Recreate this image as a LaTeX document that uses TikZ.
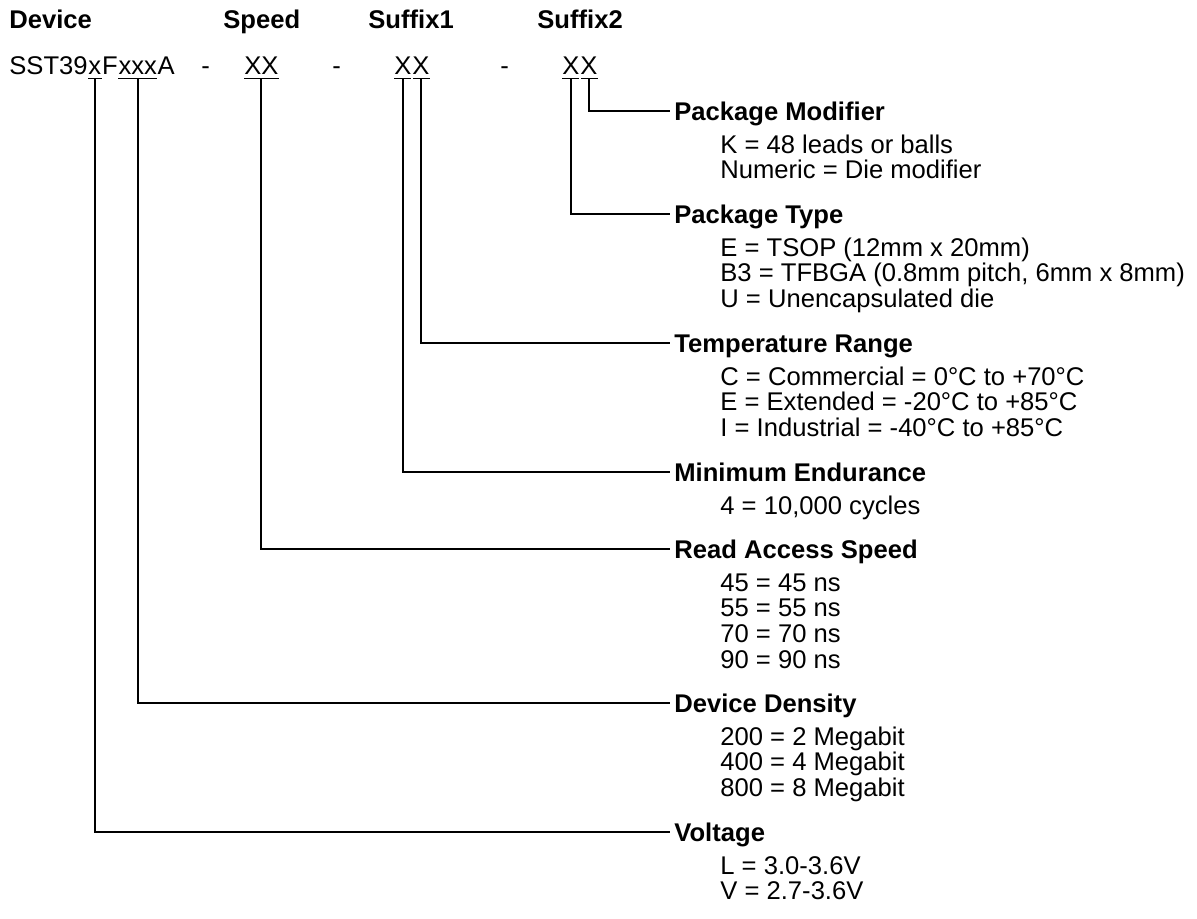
\documentclass[tikz,border=0pt]{standalone}
\usepackage{fontspec}
\setmainfont{Liberation Sans}
\begin{document}
\begin{tikzpicture}[x=0.5pt,y=-0.5pt,
  every node/.style={inner sep=0pt, font=\fontsize{12.8}{12.8}\selectfont},
  hdr/.style={font=\fontsize{12.8}{12.8}\selectfont\bfseries, anchor=base west},
  code/.style={anchor=base west, text depth=1.5pt},
  ul/.style={line width=0.7pt},
  conn/.style={line width=1pt},
  head/.style={font=\fontsize{12.8}{12.8}\selectfont\bfseries, anchor=west, inner xsep=2pt, inner ysep=0pt, text height=9.2pt, text depth=0pt},
  item/.style={anchor=base west}
]
\useasboundingbox (0,0) rectangle (1197,919);

% column headers
\node[hdr] (tDev) at (9,28.5) {Device};
\node[hdr] (tSpd) at (223,28.5) {Speed};
\node[hdr] (tS1) at (368,28.5) {Suffix1};
\node[hdr] (tS2) at (537,28.5) {Suffix2};

% part number row
\node[code] (c1) at (9,75) {SST39};
\node[code] (cx) at (c1.base east) {x};
\node[code] (cF) at (cx.base east) {F};
\node[code] (cxxx) at (cF.base east) {xxx};
\node[code] (cA) at (cxxx.base east) {A};
\node[code] (d1) at (201,75) {-};
\node[code] (sp) at (244,75) {XX};
\node[code] (d2) at (332,75) {-};
\node[code] (s1a) at (394,75) {X};
\node[code] (s1b) at (s1a.base east) {X};
\node[code] (d3) at (500,75) {-};
\node[code] (s2a) at (562,75) {X};
\node[code] (s2b) at (s2a.base east) {X};

% underlines
\draw[ul] (cx.south west) -- (cx.south east);
\draw[ul] (cxxx.south west) -- (cxxx.south east);
\draw[ul] (sp.south west) -- (sp.south east);
\draw[ul, shorten >=0.6pt] (s1a.south west) -- (s1a.south east);
\draw[ul, shorten <=0.6pt] (s1b.south west) -- (s1b.south east);
\draw[ul, shorten >=0.6pt] (s2a.south west) -- (s2a.south east);
\draw[ul, shorten <=0.6pt] (s2b.south west) -- (s2b.south east);

% legend headings
\node[head] (hPM) at (670,111) {Package Modifier};
\node[head] (hPT) at (670,214) {Package Type};
\node[head] (hTR) at (670,343) {Temperature Range};
\node[head] (hME) at (670,472) {Minimum Endurance};
\node[head] (hRA) at (670,549) {Read Access Speed};
\node[head] (hDD) at (670,703) {Device Density};
\node[head] (hV) at (670,832) {Voltage};

% legend items
\node[item] (pm1) at (720,153.2) {K = 48 leads or balls};
\node[item] (pm2) at (720,178.9) {Numeric = Die modifier};
\node[item] (pt1) at (720,256.2) {E = TSOP (12mm x 20mm)};
\node[item] (pt2) at (720,281.9) {B3 = TFBGA (0.8mm pitch, 6mm x 8mm)};
\node[item] (pt3) at (720,307.6) {U = Unencapsulated die};
\node[item] (tr1) at (720,385.2) {C = Commercial = 0°C to +70°C};
\node[item] (tr2) at (720,410.9) {E = Extended = -20°C to +85°C};
\node[item] (tr3) at (720,436.6) {I = Industrial = -40°C to +85°C};
\node[item] (me1) at (720,514.2) {4 = 10,000 cycles};
\node[item] (ra1) at (720,591.2) {45 = 45 ns};
\node[item] (ra2) at (720,616.9) {55 = 55 ns};
\node[item] (ra3) at (720,642.6) {70 = 70 ns};
\node[item] (ra4) at (720,668.3) {90 = 90 ns};
\node[item] (dd1) at (720,745.2) {200 = 2 Megabit};
\node[item] (dd2) at (720,770.9) {400 = 4 Megabit};
\node[item] (dd3) at (720,796.6) {800 = 8 Megabit};
\node[item] (v1) at (720,874.2) {L = 3.0-3.6V};
\node[item] (v2) at (720,899.9) {V = 2.7-3.6V};

% connectors
\draw[conn] (s2b.south) |- (hPM.west);
\draw[conn] (s2a.south) |- (hPT.west);
\draw[conn] (s1b.south) |- (hTR.west);
\draw[conn] (s1a.south) |- (hME.west);
\draw[conn] (sp.south) |- (hRA.west);
\draw[conn] (cxxx.south) |- (hDD.west);
\draw[conn] (cx.south) |- (hV.west);
\end{tikzpicture}
\end{document}
